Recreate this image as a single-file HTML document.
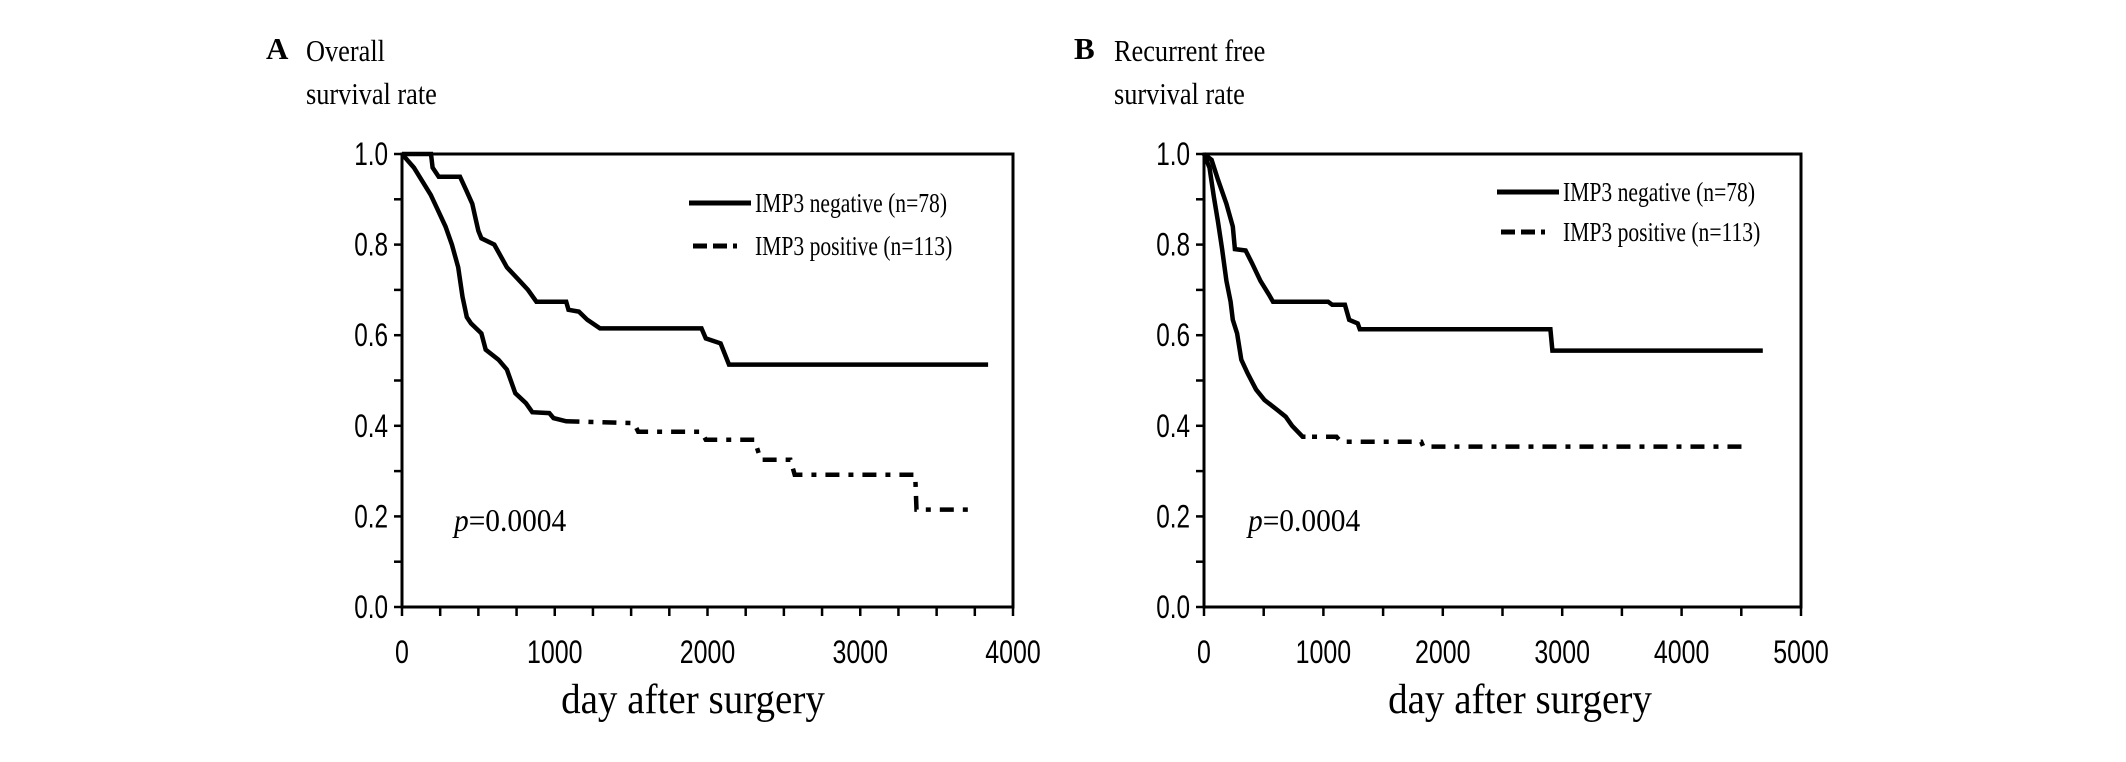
<!DOCTYPE html>
<html><head><meta charset="utf-8"><style>
html,body{margin:0;padding:0;background:#fff;}
svg{display:block;}
text{font-family:"Liberation Serif",serif;fill:#000;}
.tick{font-family:"Liberation Sans",sans-serif;font-size:32px;}
</style></head><body>
<svg id="chart" width="2126" height="762" viewBox="0 0 2126 762" xmlns="http://www.w3.org/2000/svg"></svg>
<script>
// Panel A data (days, survival)
const aNegDays=[0,190,200,240,380,420,460,480,500,520,604,687,770,825,880,1075,1090,1158,1213,1296,1961,1989,2086,2141,3837];
const aNegVals=[1,1,0.97,0.95,0.95,0.92,0.89,0.86,0.83,0.814,0.80,0.75,0.72,0.70,0.674,0.674,0.656,0.652,0.634,0.615,0.615,0.593,0.582,0.535,0.535];
const aPosDays=[0,78,133,188,230,285,327,368,396,424,452,520,548,632,687,742,811,853,964,992,1075,1518,1546,1961,1989,2307,2349,2543,2571,3360,3368,3706];
const aPosVals=[1,0.97,0.94,0.91,0.88,0.84,0.80,0.75,0.685,0.64,0.626,0.604,0.568,0.546,0.524,0.472,0.45,0.43,0.428,0.417,0.41,0.406,0.387,0.387,0.369,0.369,0.325,0.325,0.292,0.292,0.215,0.215];
// Panel B data
const bNegDays=[0,64,117,188,241,259,348,400,472,543,578,1039,1074,1180,1216,1287,1305,2901,2918,4680];
const bNegVals=[1,0.987,0.943,0.89,0.84,0.79,0.787,0.76,0.72,0.69,0.674,0.674,0.667,0.667,0.634,0.626,0.613,0.613,0.566,0.566];
const bPosDays=[0,46,82,117,152,188,223,241,277,312,365,436,507,613,684,738,826,1110,1145,1819,1837,4550];
const bPosVals=[1,0.97,0.906,0.85,0.79,0.72,0.674,0.634,0.604,0.546,0.516,0.48,0.457,0.435,0.42,0.40,0.376,0.376,0.365,0.365,0.354,0.354];
const yTicks=["0.0","0.2","0.4","0.6","0.8","1.0"];
const aXTicks=["0","1000","2000","3000","4000"];
const bXTicks=["0","1000","2000","3000","4000","5000"];

const svg=document.getElementById('chart');
const NS="http://www.w3.org/2000/svg";
function mk(tag,attrs,parent){const e=document.createElementNS(NS,tag);for(const k in attrs)e.setAttribute(k,attrs[k]);(parent||svg).appendChild(e);return e;}
function sq(x,s){return `translate(${x},0) scale(${s},1) translate(${-x},0)`;}

function panel(id,L,R,T,B,xmax,minorStep,xLabels,neg,negV,pos,posV,dashFrom,title1,title2,letter,letterX,legX,legY1,legY2,pX,xtX){
  const g=mk('g',{});
  
  
  const sx=d=>L+(R-L)*d/xmax, sy=v=>B-(B-T)*v;
  const frame=mk('rect',{x:L,y:T,width:R-L,height:B-T,fill:'none',stroke:'#000','stroke-width':3},g);
  
  
  for(let i=0;i<=10;i++){const y=sy(i/10);mk('line',{x1:L-8,x2:L,y1:y,y2:y,stroke:'#000','stroke-width':2.5},g);}
  yTicks.forEach((t,i)=>{const tx=mk('text',{x:L-14,y:sy(i*0.2)+11,'text-anchor':'end',class:'tick',transform:sq(L-14,0.76)},g);tx.textContent=t;
    
    });
  for(let d=0;d<=xmax+1;d+=minorStep){const x=sx(d);mk('line',{x1:x,x2:x,y1:B,y2:B+9,stroke:'#000','stroke-width':2.5},g);}
  xLabels.forEach(t=>{const x=sx(+t);const tx=mk('text',{x:x,y:B+56,'text-anchor':'middle',class:'tick',transform:sq(x,0.78)},g);tx.textContent=t;
    
    });
  function path(ds,vs){let p='';for(let i=0;i<ds.length;i++){p+=(i?'L':'M')+sx(ds[i]).toFixed(1)+' '+sy(vs[i]).toFixed(1)+' ';}return p;}
  const cid='clip-'+id;
  const defs=mk('defs',{},g);
  const c1=mk('clipPath',{id:cid+'a'},defs);mk('rect',{x:0,y:0,width:sx(dashFrom),height:762},c1);
  const c2=mk('clipPath',{id:cid+'b'},defs);mk('rect',{x:sx(dashFrom),y:0,width:2126,height:762},c2);
  const n=mk('path',{d:path(neg,negV),fill:'none',stroke:'#000','stroke-width':4.5},g);
  
  
  const p1=mk('path',{d:path(pos,posV),fill:'none',stroke:'#000','stroke-width':4.5,'clip-path':`url(#${cid}a)`},g);
  
  
  const p2=mk('path',{d:path(pos,posV),fill:'none',stroke:'#000','stroke-width':4.5,'stroke-dasharray':'14 9 5 9','clip-path':`url(#${cid}b)`},g);
  
  
  const l1=mk('line',{x1:legX,x2:legX+62,y1:legY1,y2:legY1,stroke:'#000','stroke-width':5},g);
  
  
  const t1=mk('text',{x:legX+66,y:legY1+9,'font-size':'27',transform:sq(legX+66,0.8)},g);t1.textContent='IMP3 negative (n=78)';
  
  
  const l2=mk('line',{x1:legX+4,x2:legX+62,y1:legY2,y2:legY2,stroke:'#000','stroke-width':5,'stroke-dasharray':'14 6 14 6 4'},g);
  
  
  const t2=mk('text',{x:legX+66,y:legY2+9,'font-size':'27',transform:sq(legX+66,0.8)},g);t2.textContent='IMP3 positive (n=113)';
  
  
  const pv=mk('text',{x:pX,y:531,'font-size':'32',transform:sq(pX,0.92)},g);pv.innerHTML='<tspan font-style="italic">p</tspan>=0.0004';
  
  
  const lt=mk('text',{x:letterX,y:59,'font-size':'31','font-weight':'bold'},g);lt.textContent=letter;
  
  
  const y1=mk('text',{x:letterX+40,y:61,'font-size':'31',transform:sq(letterX+40,0.85)},g);y1.textContent=title1;
  
  
  const y2=mk('text',{x:letterX+40,y:104,'font-size':'31',transform:sq(letterX+40,0.85)},g);y2.textContent=title2;
  
  
  const xt=mk('text',{x:xtX,y:713,'font-size':'42','text-anchor':'middle',transform:sq(xtX,0.93)},g);xt.textContent='day after surgery';
  
  
}
panel('a',402,1013,154,607,4000,250,aXTicks,aNegDays,aNegVals,aPosDays,aPosVals,1100,'Overall','survival rate','A',266,689,203,246,454,693);
panel('b',1204,1801,154,607,5000,500,bXTicks,bNegDays,bNegVals,bPosDays,bPosVals,850,'Recurrent free','survival rate','B',1074,1497,192,232,1248,1520);
</script>
</body></html>
